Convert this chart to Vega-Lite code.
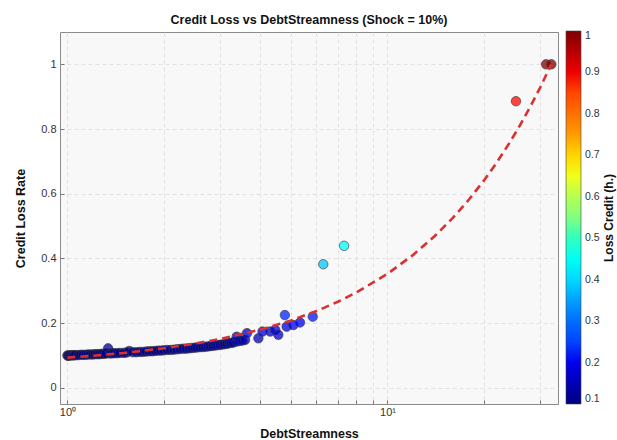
{
  "$schema": "https://vega.github.io/schema/vega-lite/v6.json",
  "width": 498,
  "height": 372,
  "autosize": {"type": "none"},
  "padding": {"left": 60, "top": 32, "right": 59, "bottom": 36},
  "background": "white",
  "config": {
    "font": "Liberation Sans",
    "view": {"fill": "#f8f8f8", "stroke": "#8a8a8a", "strokeWidth": 1},
    "axis": {
      "labelFont": "Liberation Sans",
      "labelFontSize": 11,
      "labelColor": "#333333",
      "titleFont": "Liberation Sans",
      "titleFontSize": 12.5,
      "titleFontWeight": "bold",
      "titleColor": "#111111",
      "domain": false,
      "tickColor": "#777777",
      "tickSize": -4,
      "grid": true,
      "gridColor": "#dcdcdc",
      "gridDash": [4, 3],
      "gridWidth": 0.8
    }
  },
  "title": {
    "text": "Credit Loss vs DebtStreamness (Shock = 10%)",
    "fontSize": 12.5,
    "fontWeight": "bold",
    "color": "#111111",
    "offset": 5
  },
  "datasets": {
    "firms": [
      {"ds": 1.00, "loss": 0.100, "h": 0.100},
      {"ds": 1.005, "loss": 0.099, "h": 0.099},
      {"ds": 1.01, "loss": 0.100, "h": 0.100},
      {"ds": 1.02, "loss": 0.100, "h": 0.100},
      {"ds": 1.03, "loss": 0.101, "h": 0.101},
      {"ds": 1.04, "loss": 0.100, "h": 0.100},
      {"ds": 1.05, "loss": 0.101, "h": 0.101},
      {"ds": 1.06, "loss": 0.101, "h": 0.101},
      {"ds": 1.08, "loss": 0.101, "h": 0.101},
      {"ds": 1.10, "loss": 0.102, "h": 0.102},
      {"ds": 1.12, "loss": 0.102, "h": 0.102},
      {"ds": 1.14, "loss": 0.102, "h": 0.102},
      {"ds": 1.16, "loss": 0.103, "h": 0.103},
      {"ds": 1.18, "loss": 0.103, "h": 0.103},
      {"ds": 1.20, "loss": 0.103, "h": 0.103},
      {"ds": 1.22, "loss": 0.104, "h": 0.104},
      {"ds": 1.24, "loss": 0.104, "h": 0.104},
      {"ds": 1.26, "loss": 0.104, "h": 0.104},
      {"ds": 1.28, "loss": 0.105, "h": 0.105},
      {"ds": 1.30, "loss": 0.105, "h": 0.105},
      {"ds": 1.32, "loss": 0.106, "h": 0.106},
      {"ds": 1.34, "loss": 0.122, "h": 0.122},
      {"ds": 1.36, "loss": 0.106, "h": 0.106},
      {"ds": 1.38, "loss": 0.107, "h": 0.107},
      {"ds": 1.40, "loss": 0.107, "h": 0.107},
      {"ds": 1.43, "loss": 0.107, "h": 0.107},
      {"ds": 1.46, "loss": 0.108, "h": 0.108},
      {"ds": 1.50, "loss": 0.108, "h": 0.108},
      {"ds": 1.53, "loss": 0.109, "h": 0.109},
      {"ds": 1.56, "loss": 0.114, "h": 0.114},
      {"ds": 1.60, "loss": 0.110, "h": 0.110},
      {"ds": 1.64, "loss": 0.110, "h": 0.110},
      {"ds": 1.68, "loss": 0.111, "h": 0.111},
      {"ds": 1.72, "loss": 0.111, "h": 0.111},
      {"ds": 1.76, "loss": 0.112, "h": 0.112},
      {"ds": 1.80, "loss": 0.113, "h": 0.113},
      {"ds": 1.84, "loss": 0.113, "h": 0.113},
      {"ds": 1.88, "loss": 0.114, "h": 0.114},
      {"ds": 1.92, "loss": 0.115, "h": 0.115},
      {"ds": 1.96, "loss": 0.115, "h": 0.115},
      {"ds": 2.00, "loss": 0.116, "h": 0.116},
      {"ds": 2.05, "loss": 0.117, "h": 0.117},
      {"ds": 2.10, "loss": 0.117, "h": 0.117},
      {"ds": 2.15, "loss": 0.118, "h": 0.118},
      {"ds": 2.20, "loss": 0.119, "h": 0.119},
      {"ds": 2.25, "loss": 0.120, "h": 0.120},
      {"ds": 2.30, "loss": 0.121, "h": 0.121},
      {"ds": 2.35, "loss": 0.121, "h": 0.121},
      {"ds": 2.40, "loss": 0.122, "h": 0.122},
      {"ds": 2.45, "loss": 0.123, "h": 0.123},
      {"ds": 2.50, "loss": 0.124, "h": 0.124},
      {"ds": 2.55, "loss": 0.125, "h": 0.125},
      {"ds": 2.60, "loss": 0.126, "h": 0.126},
      {"ds": 2.65, "loss": 0.126, "h": 0.126},
      {"ds": 2.70, "loss": 0.127, "h": 0.127},
      {"ds": 2.75, "loss": 0.128, "h": 0.128},
      {"ds": 2.80, "loss": 0.129, "h": 0.129},
      {"ds": 2.85, "loss": 0.130, "h": 0.130},
      {"ds": 2.90, "loss": 0.131, "h": 0.131},
      {"ds": 2.95, "loss": 0.132, "h": 0.132},
      {"ds": 3.00, "loss": 0.133, "h": 0.133},
      {"ds": 3.05, "loss": 0.134, "h": 0.134},
      {"ds": 3.10, "loss": 0.135, "h": 0.135},
      {"ds": 3.15, "loss": 0.136, "h": 0.136},
      {"ds": 3.20, "loss": 0.138, "h": 0.138},
      {"ds": 3.25, "loss": 0.139, "h": 0.139},
      {"ds": 3.30, "loss": 0.140, "h": 0.140},
      {"ds": 3.38, "loss": 0.143, "h": 0.143},
      {"ds": 3.38, "loss": 0.158, "h": 0.158},
      {"ds": 3.45, "loss": 0.145, "h": 0.145},
      {"ds": 3.52, "loss": 0.146, "h": 0.146},
      {"ds": 3.59, "loss": 0.148, "h": 0.148},
      {"ds": 3.64, "loss": 0.169, "h": 0.169},
      {"ds": 3.95, "loss": 0.153, "h": 0.153},
      {"ds": 4.07, "loss": 0.174, "h": 0.174},
      {"ds": 4.30, "loss": 0.174, "h": 0.174},
      {"ds": 4.46, "loss": 0.179, "h": 0.179},
      {"ds": 4.56, "loss": 0.164, "h": 0.164},
      {"ds": 4.78, "loss": 0.225, "h": 0.225},
      {"ds": 4.84, "loss": 0.189, "h": 0.189},
      {"ds": 5.08, "loss": 0.194, "h": 0.194},
      {"ds": 5.33, "loss": 0.202, "h": 0.202},
      {"ds": 5.84, "loss": 0.220, "h": 0.220},
      {"ds": 6.30, "loss": 0.382, "h": 0.382},
      {"ds": 7.32, "loss": 0.439, "h": 0.439},
      {"ds": 25.2, "loss": 0.886, "h": 0.886},
      {"ds": 31.3, "loss": 1.0, "h": 1.0},
      {"ds": 32.5, "loss": 1.0, "h": 1.0}
    ],
    "fit": [
      {"ds": 1.0, "loss": 0.0933},
      {"ds": 1.2, "loss": 0.0991},
      {"ds": 1.5, "loss": 0.1077},
      {"ds": 2.0, "loss": 0.1221},
      {"ds": 2.5, "loss": 0.1365},
      {"ds": 3.0, "loss": 0.1509},
      {"ds": 4.0, "loss": 0.1797},
      {"ds": 5.0, "loss": 0.2085},
      {"ds": 6.0, "loss": 0.2373},
      {"ds": 7.0, "loss": 0.2661},
      {"ds": 8.0, "loss": 0.2949},
      {"ds": 10.0, "loss": 0.3525},
      {"ds": 12.0, "loss": 0.4101},
      {"ds": 14.0, "loss": 0.4677},
      {"ds": 16.0, "loss": 0.5253},
      {"ds": 18.0, "loss": 0.5829},
      {"ds": 20.0, "loss": 0.6405},
      {"ds": 22.0, "loss": 0.6981},
      {"ds": 24.0, "loss": 0.7557},
      {"ds": 26.0, "loss": 0.8133},
      {"ds": 28.0, "loss": 0.8709},
      {"ds": 30.0, "loss": 0.9285},
      {"ds": 32.5, "loss": 1.0005}
    ]
  },
  "encoding": {
    "x": {
      "field": "ds",
      "type": "quantitative",
      "scale": {"type": "log", "domain": [0.948, 34.1], "nice": false},
      "axis": {
        "title": "DebtStreamness",
        "values": [1, 2, 3, 4, 5, 6, 7, 8, 9, 10, 20, 30],
        "labelExpr": "datum.value == 1 ? '10⁰' : (datum.value == 10 ? '10¹' : '')",
        "labelPadding": 6,
        "titlePadding": 10
      }
    },
    "y": {
      "field": "loss",
      "type": "quantitative",
      "scale": {"domain": [-0.05, 1.1], "nice": false},
      "axis": {
        "title": "Credit Loss Rate",
        "values": [0, 0.2, 0.4, 0.6, 0.8, 1],
        "format": "~g",
        "labelPadding": 8,
        "titlePadding": 13
      }
    }
  },
  "layer": [
    {
      "mark": {"type": "rule", "color": "#7a7a7a", "strokeDash": [7, 4], "strokeWidth": 1.6},
      "encoding": {"y": {"datum": 1}, "x": null}
    },
    {
      "data": {"name": "firms"},
      "mark": {"type": "point", "filled": true, "size": 90, "fillOpacity": 0.75, "stroke": "#3a3a3a", "strokeWidth": 0.8, "strokeOpacity": 0.8},
      "encoding": {
        "color": {
          "field": "h",
          "type": "quantitative",
          "scale": {
            "domain": [0.1, 1],
            "range": ["#000080", "#0000ff", "#0080ff", "#00ffff", "#80ff80", "#ffff00", "#ff8000", "#ff0000", "#800000"]
          },
          "legend": {
            "orient": "none",
            "legendX": 506,
            "legendY": -1,
            "direction": "vertical",
            "gradientLength": 373,
            "gradientThickness": 15,
            "gradientStrokeColor": "#444444",
            "gradientStrokeWidth": 0.6,
            "values": [0.1, 0.2, 0.3, 0.4, 0.5, 0.6, 0.7, 0.8, 0.9, 1],
            "format": "~g",
            "labelFont": "Liberation Sans",
            "labelFontSize": 10.5,
            "labelColor": "#333333",
            "labelOffset": 4,
            "title": "Loss Credit (h.)",
            "titleOrient": "right",
            "titleAnchor": "middle",
            "titleBaseline": "top",
            "titleFont": "Liberation Sans",
            "titleFontSize": 12,
            "titleFontWeight": "bold",
            "titleColor": "#111111",
            "titlePadding": 4,
            "encode": {
              "title": {"update": {"angle": {"value": -90}}}
            }
          }
        }
      }
    },
    {
      "data": {"name": "fit"},
      "mark": {"type": "line", "color": "#d93030", "strokeDash": [8, 5], "strokeWidth": 2.6},
      "encoding": {}
    },
    {
      "mark": {"type": "text", "text": "Full Distress", "align": "left", "baseline": "middle", "fontSize": 10, "color": "#555555", "font": "Liberation Sans"},
      "encoding": {"x": {"datum": 1.09}, "y": {"datum": 1.031}}
    }
  ]
}
